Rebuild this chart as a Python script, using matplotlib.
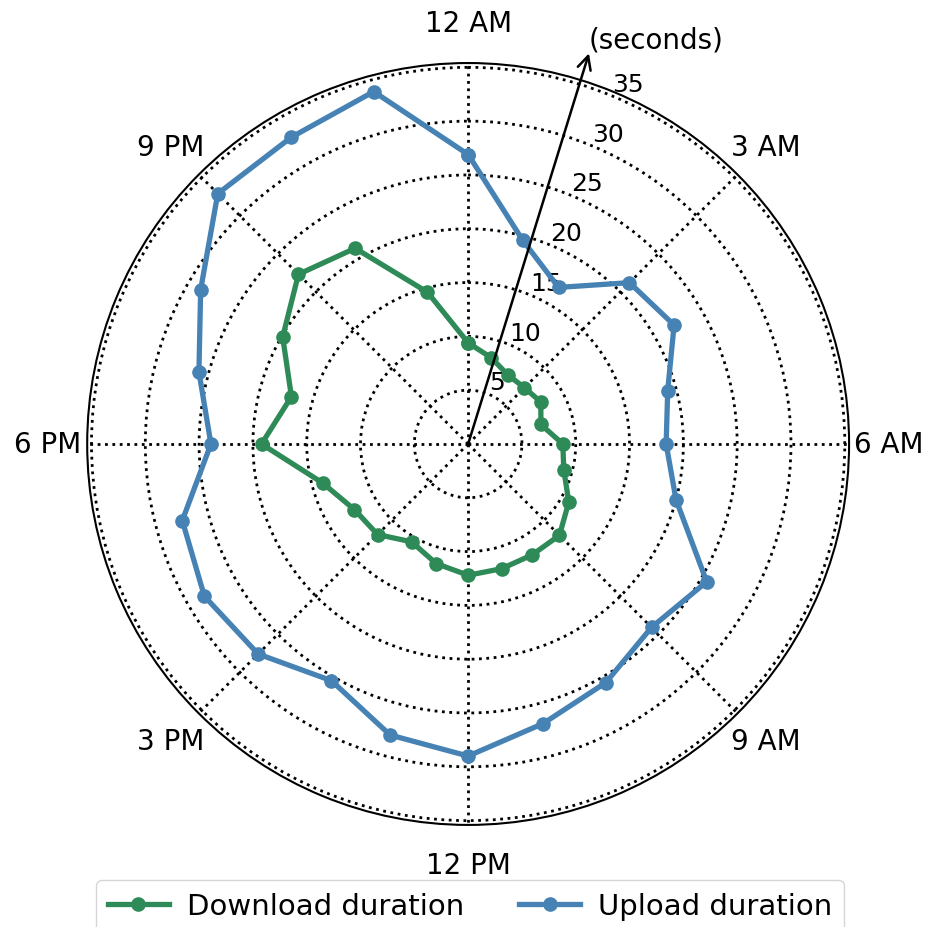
"""
Polar plot of transfer durations over the day (hourly averages)
"""

import numpy as np
import matplotlib
matplotlib.use("Agg")
import matplotlib.pyplot as plt

# ==================== Data ====================

hours = list(range(24))

download_duration = [9.4, 8.3, 7.4, 7.4, 7.8, 7.0, 8.8, 9.2, 10.8, 12.0, 11.9, 12.0,
                     12.2, 11.5, 10.5, 11.9, 12.2, 14.0, 19.2, 17.0, 19.9, 22.3, 21.0, 14.6]

upload_duration = [26.9, 19.6, 16.8, 21.2, 22.1, 19.2, 18.4, 20.0, 25.6, 24.1, 25.6, 26.9,
                   29.0, 28.0, 25.4, 27.6, 28.3, 27.5, 23.9, 25.9, 28.7, 32.9, 32.9, 33.9]

hour_ticks = [0, 3, 6, 9, 12, 15, 18, 21]
hour_labels = ["12 AM", "3 AM", "6 AM", "9 AM", "12 PM", "3 PM", "6 PM", "9 PM"]
radial_ticks = [5, 10, 15, 20, 25, 30, 35]

# ==================== Plot ====================

def to_theta(h):
    return np.asarray(h) / 24.0 * 2 * np.pi

# close the loop so the last hour connects back to midnight
theta = to_theta(hours + [hours[0]])
down = download_duration + [download_duration[0]]
up = upload_duration + [upload_duration[0]]

fig = plt.figure(figsize=(9.27, 9.28), dpi=100)
ax = fig.add_axes([0.094, 0.110, 0.822, 0.821], projection="polar")
ax.set_theta_zero_location("N")
ax.set_theta_direction(-1)

ax.plot(theta, down, "-o", color="seagreen", lw=3.8, ms=9.5, label="Download duration")
ax.plot(theta, up, "-o", color="steelblue", lw=3.8, ms=9.5, label="Upload duration")

ax.set_ylim(0, 35.4)
ax.set_xticks(to_theta(hour_ticks))
ax.set_xticklabels(hour_labels, fontsize=20)
ax.tick_params(axis="x", pad=18)
ax.set_yticks(radial_ticks)
ax.set_yticklabels([str(t) for t in radial_ticks], fontsize=18)
ax.set_rlabel_position(22.5)
ax.grid(True, color="black", linestyle=":", linewidth=2)
ax.spines["polar"].set_linewidth(1.5)

# arrow marking the radial axis units
ax.annotate("", xy=(0.30, 38.0), xytext=(0, 0),
            arrowprops=dict(arrowstyle="->", color="black", lw=1.8,
                            mutation_scale=24, shrinkA=0, shrinkB=0),
            annotation_clip=False)
ax.text(0.30, 38.0, "(seconds)", fontsize=20, ha="left", va="bottom", clip_on=False)

fig.legend(loc="upper center", bbox_to_anchor=(0.507, 0.066), ncol=2, fontsize=21,
           handlelength=2.1, handletextpad=0.6, columnspacing=1.9)

fig.savefig("out.png", dpi=100)
